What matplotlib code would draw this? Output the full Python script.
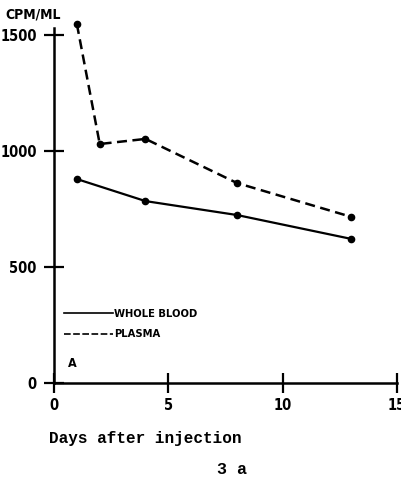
import matplotlib
matplotlib.use("Agg")
import matplotlib.pyplot as plt
from matplotlib.lines import Line2D

days_plasma = [1, 2, 4, 8, 13]
plasma = [1547, 1030, 1052, 862, 716]
days_blood = [1, 4, 8, 13]
whole_blood = [879, 784, 724, 621]
xticks = [0, 5, 10, 15]
yticks = [0, 500, 1000, 1500]

sans = ['DejaVu Sans']
mono = ['Liberation Mono', 'DejaVu Sans Mono']

fig = plt.figure(figsize=(4.01, 4.82), dpi=100)
ax = fig.add_axes([54/401, 1-383/482, (397-54)/401, (383-28)/482])
ax.set_xlim(0, 15)
ax.set_ylim(0, 1530)

ax.plot(days_blood, whole_blood, color='black', lw=1.6, marker='o', ms=4.5, clip_on=False)
ax.plot(days_plasma, plasma, color='black', lw=1.8, marker='o', ms=4.5,
        dashes=(4, 2.2), clip_on=False)

for s in ['top', 'right']:
    ax.spines[s].set_visible(False)
for s in ['left', 'bottom']:
    ax.spines[s].set_linewidth(1.8)

ax.set_xticks(xticks)
ax.set_yticks(yticks)
ax.tick_params(axis='both', direction='inout', length=15, width=1.6, labelsize=10.5)
ax.tick_params(axis='x', pad=3.5)
ax.tick_params(axis='y', pad=5)
for lab in ax.get_xticklabels() + ax.get_yticklabels():
    lab.set_fontfamily(sans)
    lab.set_fontweight('bold')
    lab.set_fontstretch('condensed')

handles = [Line2D([], [], color='black', lw=1.2),
           Line2D([], [], color='black', lw=1.2, dashes=(4, 1.5))]
leg = ax.legend(handles, ['WHOLE BLOOD', 'PLASMA'], loc='upper left',
                bbox_to_anchor=(0.0, 0.237), frameon=False, handlelength=4.4,
                handletextpad=0.1, labelspacing=0.95,
                prop={'family': sans, 'weight': 'bold', 'size': 8, 'stretch': 'condensed'})

ax.text(0.04, 0.045, 'A', transform=ax.transAxes, fontfamily=sans, fontweight='bold',
        fontstretch='condensed', fontsize=9)
fig.text(5/401, 1-15/482, 'CPM/ML', fontfamily=sans, fontweight='bold', fontstretch='condensed',
         fontsize=10, va='center')
fig.text(49/401, 1-438/482, 'Days after injection', fontfamily=mono, fontweight='bold',
         fontsize=11.5, va='center')
fig.text(232/401, 1-470/482, '3 a', fontfamily=mono, fontweight='bold', fontsize=12,
         ha='center', va='center')

fig.savefig('out.png', dpi=100)
